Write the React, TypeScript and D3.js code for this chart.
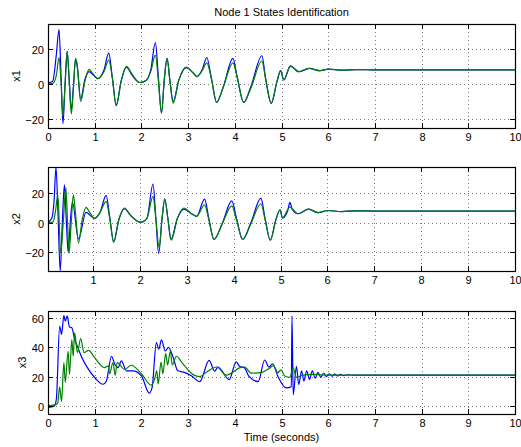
import React from 'react';
import * as d3 from 'd3';

// x1 state: actual (blue) and identified (green) share one time grid
const x1Time = [0, 0.1, 0.18, 0.235, 0.28, 0.32, 0.365, 0.41, 0.455, 0.5, 0.545, 0.59, 0.625, 0.7, 0.79, 0.88, 0.97, 1.07, 1.2, 1.3, 1.38, 1.46, 1.57, 1.68, 1.8, 1.96, 2.1, 2.2, 2.3, 2.36, 2.43, 2.49, 2.55, 2.61, 2.68, 2.8, 2.96, 3.1, 3.19, 3.3, 3.4, 3.5, 3.61, 3.75, 3.96, 4.05, 4.19, 4.35, 4.58, 4.66, 4.78, 4.9, 4.98, 5.05, 5.19, 5.37, 5.59, 5.83, 6.0, 6.3, 6.6, 7.0, 10];
const x1Actual = [0.5, 1.5, 17, 31, 4, -22.5, -1, 18.5, 2, -15, -1, 14, 10, -8.5, 2.5, 7, 5, 3, 8, 17.5, 3, -12, 2, 9.5, 5, 0.8, 2, 8, 23.5, 5, -16.5, 2, 14.5, 2, -10, 2, 9.2, 6.5, 4.2, 8, 15, 3, -10.5, -2, 14.5, 4, -10.5, -1, 16, 3, -11, 1, 7.5, 2.3, 10.3, 6.9, 8.8, 7.5, 8.4, 7.8, 8.1, 8, 8];
const x1Estimate = [0, 0.3, 5, 15, 1, -18, 0, 18.5, 1, -17, -2, 14.5, 11, -10, 1.5, 8.3, 5.5, 3, 7, 13.5, 3, -12.5, 2, 10, 5.5, 0.8, 2, 7, 16.3, 3, -16.5, 3, 14.5, 2, -11, 2, 9.5, 6.5, 4.2, 7.5, 12, 3, -10.5, -2, 12, 4, -10.5, -2, 13, 3, -11, 1, 7.5, 2.3, 10, 7, 8.8, 7.5, 8.4, 7.8, 8.1, 8, 8];

// x2 state
const x2ActualTime = [0.04, 0.12, 0.17, 0.21, 0.255, 0.3, 0.345, 0.39, 0.43, 0.47, 0.515, 0.56, 0.69, 0.85, 1.03, 1.15, 1.28, 1.36, 1.44, 1.55, 1.67, 1.8, 2.01, 2.15, 2.28, 2.34, 2.4, 2.47, 2.53, 2.6, 2.66, 2.8, 2.94, 3.08, 3.21, 3.38, 3.47, 3.58, 3.76, 3.96, 4.06, 4.19, 4.37, 4.58, 4.67, 4.78, 4.9, 4.99, 5.04, 5.15, 5.2, 5.25, 5.37, 5.6, 5.8, 6.0, 6.3, 6.6, 7, 10];
const x2Actual = [0.3, 3, 15, 38, 5, -33, 0, 25.8, 2, -20, 0, 14, -11, 7, 3, 7, 18.6, 3, -13, 2, 9.5, 5, 0.3, 3, 26.4, 3, -21, 2, 16, 2, -11.5, 3, 9.3, 6.6, 4.3, 16.1, 3, -11.5, -0.2, 14.9, 3, -11.5, 0.2, 16.8, 3, -12, 2, 8.8, 3.2, 8, 13.8, 9, 6.1, 9.3, 6.8, 8.3, 7.6, 8.1, 7.9, 7.9];
const x2EstimateTime = [0.04, 0.15, 0.2, 0.25, 0.31, 0.365, 0.42, 0.455, 0.49, 0.535, 0.58, 0.63, 0.69, 0.77, 0.85, 0.93, 1.03, 1.15, 1.28, 1.36, 1.44, 1.55, 1.67, 1.8, 2.01, 2.15, 2.28, 2.34, 2.41, 2.47, 2.53, 2.6, 2.67, 2.8, 2.94, 3.08, 3.21, 3.38, 3.47, 3.58, 3.76, 3.96, 4.06, 4.19, 4.37, 4.58, 4.67, 4.78, 4.9, 4.99, 5.04, 5.2, 5.37, 5.6, 5.8, 6.0, 6.3, 6.6, 7, 10];
const x2Estimate = [0, 0.5, 8, 19, -20.5, 0, 24, 2, -21, 0, 19, 5, -13.8, 2, 10.4, 7, 3, 7, 14.6, 2, -13.5, 2, 10, 5, 0.3, 3, 17.9, 3, -17, 2, 16.5, 2, -12, 3, 10, 6.6, 4.3, 12.2, 2, -11.5, -0.5, 11.5, 2, -11.5, -0.5, 12.9, 2, -12, 2, 8.8, 3.2, 10.6, 6.1, 9.3, 6.8, 8.3, 7.6, 8.1, 7.9, 7.9];

// x3 state
const x3ActualTime = [0, 0.14, 0.18, 0.25, 0.29, 0.34, 0.37, 0.41, 0.46, 0.51, 0.57, 0.64, 0.71, 0.82, 1.0, 1.18, 1.25, 1.36, 1.43, 1.5, 1.57, 1.68, 1.82, 2.0, 2.17, 2.23, 2.32, 2.37, 2.43, 2.51, 2.58, 2.67, 2.78, 2.93, 3.07, 3.25, 3.45, 3.57, 3.64, 3.88, 4.03, 4.1, 4.21, 4.3, 4.5, 4.64, 4.73, 4.81, 4.92, 5.1, 5.21, 5.225, 5.25, 5.32, 5.37, 5.43, 5.48, 5.54, 5.6, 5.66, 5.72, 5.78, 5.84, 5.9, 5.96, 6.02, 6.08, 6.14, 6.2, 6.26, 6.32, 6.4, 6.6, 10];
const x3Actual = [-1, 0, 5, 54.7, 49, 62, 58, 61.6, 54, 53.5, 45.6, 39.9, 34.2, 27.4, 19.4, 14.8, 17, 34, 28.5, 26.2, 30.8, 24, 24, 20.5, 8.7, 12.6, 43.4, 38.8, 45.2, 37.6, 40, 34.2, 24, 22.8, 20.6, 16.6, 31.2, 23.7, 26.6, 18, 30.1, 27.1, 26, 20.3, 16.6, 31.4, 26.6, 28.8, 20.3, 12.3, 13, 61.7, 7.5, 27, 14.5, 24, 17, 24, 18, 24, 19, 23, 19.5, 22.5, 20, 22, 20.3, 21.8, 20.5, 21.5, 20.7, 21.3, 21, 21];
const x3EstimateTime = [0, 0.18, 0.21, 0.25, 0.29, 0.34, 0.37, 0.43, 0.46, 0.51, 0.54, 0.57, 0.63, 0.7, 0.77, 0.87, 1.0, 1.21, 1.29, 1.32, 1.39, 1.44, 1.48, 1.64, 1.78, 2.0, 2.21, 2.28, 2.33, 2.36, 2.42, 2.46, 2.52, 2.56, 2.62, 2.66, 2.75, 2.86, 3.11, 3.25, 3.39, 3.61, 3.82, 3.96, 4.1, 4.21, 4.35, 4.57, 4.75, 4.83, 4.92, 4.99, 5.07, 5.18, 5.25, 5.32, 5.46, 5.7, 6, 10];
const x3Estimate = [0, 1, 2.3, 13, 3, 29.6, 16, 37.5, 21.5, 45.4, 34, 50, 36.5, 46, 36.5, 38, 33, 26.2, 27.4, 22, 29.6, 21, 29.6, 25, 27.8, 22, 14.2, 18, 24, 15, 30, 22, 36, 28, 37.6, 28, 34, 30, 21.4, 20, 23, 26.6, 21, 23, 26, 26.6, 22.4, 22.8, 26, 27.6, 22.8, 24.6, 20.5, 19.6, 26, 19.6, 21, 21.5, 21, 21];

const xTicks = [0, 1, 2, 3, 4, 5, 6, 7, 8, 9, 10];
const x1Ticks = [-20, 0, 20];
const x2Ticks = [-20, 0, 20];
const x3Ticks = [0, 20, 40, 60];

const WIDTH = 521;
const HEIGHT = 447;
const LEFT = 48;
const RIGHT = 515;
const FONT = 'Liberation Sans, Arial, Helvetica, sans-serif';
const BLUE = '#0000ff';
const GREEN = '#008000';

type Series = { t: number[]; v: number[]; color: string };

type PanelProps = {
  id: string;
  top: number;
  bottom: number;
  xDomain: [number, number];
  yDomain: [number, number];
  yTicks: number[];
  label: string;
  labelX: number;
  series: Series[];
};

function Panel({ id, top, bottom, xDomain, yDomain, yTicks, label, labelX, series }: PanelProps) {
  const x = d3.scaleLinear().domain(xDomain).range([LEFT, RIGHT]);
  const y = d3.scaleLinear().domain(yDomain).range([bottom, top]);
  const ticksX = xTicks.filter(d => d >= xDomain[0] && d <= xDomain[1]);
  const tickLen = 5;

  const line = d3.line<[number, number]>()
    .x(d => x(d[0]))
    .y(d => y(d[1]))
    .curve(d3.curveMonotoneX);

  return (
    <g>
      <defs>
        <clipPath id={`clip-${id}`}>
          <rect x={LEFT} y={top} width={RIGHT - LEFT} height={bottom - top} />
        </clipPath>
      </defs>
      {/* grid */}
      {ticksX.map(t => (
        <line key={`gx${t}`} x1={Math.round(x(t)) + 0.5} x2={Math.round(x(t)) + 0.5} y1={top} y2={bottom}
          stroke="#777" strokeWidth={1} strokeDasharray="1,3" />
      ))}
      {yTicks.map(t => (
        <line key={`gy${t}`} x1={LEFT} x2={RIGHT} y1={Math.round(y(t)) + 0.5} y2={Math.round(y(t)) + 0.5}
          stroke="#777" strokeWidth={1} strokeDasharray="1,3" />
      ))}
      {/* data */}
      <g clipPath={`url(#clip-${id})`}>
        {series.map((s, i) => (
          <path key={i} d={line(s.t.map((t, j) => [t, s.v[j]] as [number, number])) || ''}
            fill="none" stroke={s.color} strokeWidth={1.2} />
        ))}
      </g>
      {/* ticks */}
      {ticksX.map(t => {
        const px = Math.round(x(t)) + 0.5;
        return (
          <g key={`tx${t}`}>
            <line x1={px} x2={px} y1={bottom} y2={bottom - tickLen} stroke="#000" />
            <line x1={px} x2={px} y1={top} y2={top + tickLen} stroke="#000" />
            <text x={px} y={bottom + 13} textAnchor="middle" fontSize={11} fontFamily={FONT} fill="#000">{t}</text>
          </g>
        );
      })}
      {yTicks.map(t => {
        const py = Math.round(y(t)) + 0.5;
        return (
          <g key={`ty${t}`}>
            <line x1={LEFT} x2={LEFT + tickLen} y1={py} y2={py} stroke="#000" />
            <line x1={RIGHT} x2={RIGHT - tickLen} y1={py} y2={py} stroke="#000" />
            <text x={LEFT - 4} y={py + 4} textAnchor="end" fontSize={11} fontFamily={FONT} fill="#000">
              {t < 0 ? `\u2212${Math.abs(t)}` : t}
            </text>
          </g>
        );
      })}
      <rect x={LEFT + 0.5} y={top + 0.5} width={RIGHT - LEFT} height={bottom - top} fill="none" stroke="#000" strokeWidth={1.2} />
      <text transform={`translate(${labelX},${(top + bottom) / 2}) rotate(-90)`} textAnchor="middle"
        fontSize={11} fontFamily={FONT} fill="#000">{label}</text>
    </g>
  );
}

export default function App() {
  return (
    <svg width={WIDTH} height={HEIGHT} style={{ position: 'absolute', left: 0, top: 0, background: '#fff' }}>
      <rect width={WIDTH} height={HEIGHT} fill="#fff" />
      <text x={(LEFT + RIGHT) / 2} y={16} textAnchor="middle" fontSize={11} fontFamily={FONT} fill="#000">
        Node 1 States Identification
      </text>
      <Panel id="p1" top={24} bottom={128} xDomain={[0, 10]} yDomain={[-25, 34]} yTicks={x1Ticks}
        label="x1" labelX={20}
        series={[{ t: x1Time, v: x1Actual, color: BLUE }, { t: x1Time, v: x1Estimate, color: GREEN }]} />
      <Panel id="p2" top={167} bottom={271} xDomain={[0.04, 10]} yDomain={[-33, 38]} yTicks={x2Ticks}
        label="x2" labelX={20}
        series={[{ t: x2ActualTime, v: x2Actual, color: BLUE }, { t: x2EstimateTime, v: x2Estimate, color: GREEN }]} />
      <Panel id="p3" top={311} bottom={414} xDomain={[0, 10]} yDomain={[-5.6, 65]} yTicks={x3Ticks}
        label="x3" labelX={26}
        series={[{ t: x3ActualTime, v: x3Actual, color: BLUE }, { t: x3EstimateTime, v: x3Estimate, color: GREEN }]} />
      <text x={(LEFT + RIGHT) / 2} y={441} textAnchor="middle" fontSize={11} fontFamily={FONT} fill="#000">
        Time (seconds)
      </text>
    </svg>
  );
}
